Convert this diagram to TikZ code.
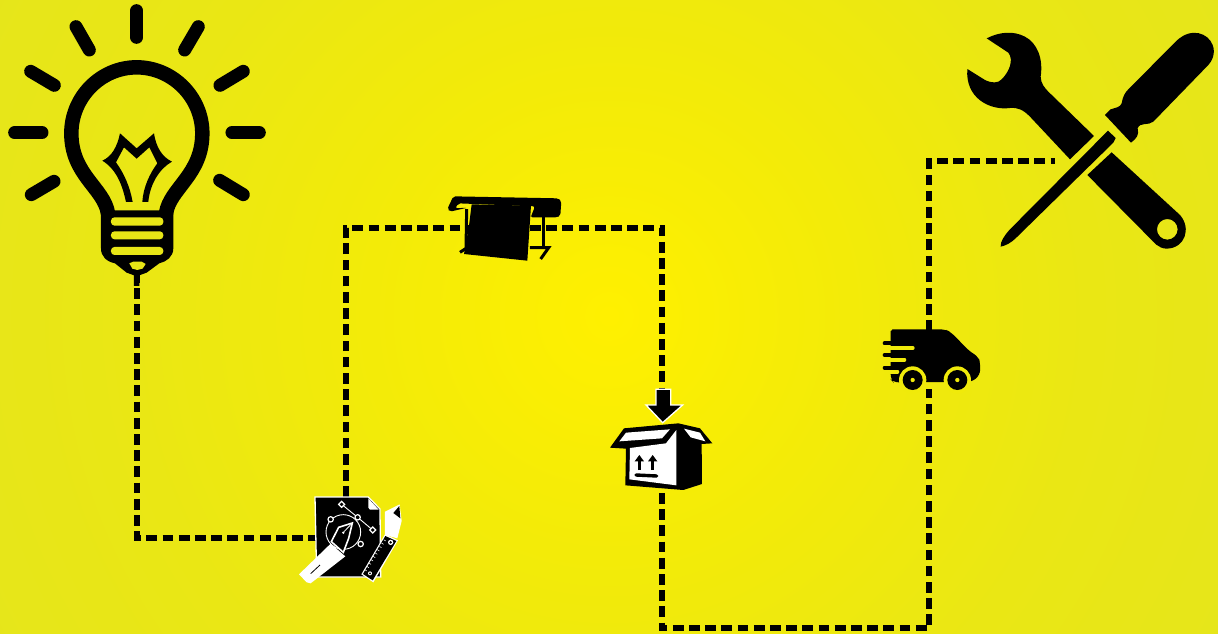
\documentclass[tikz,border=0pt]{standalone}
\definecolor{ylwbulb}{HTML}{E8E616}
\definecolor{ylwvan}{HTML}{F0EA0A}
\definecolor{bga}{HTML}{FFF000}
\definecolor{bgb}{HTML}{F3EB08}
\definecolor{bgc}{HTML}{EAE714}
\definecolor{bgd}{HTML}{E5E51C}
\pgfdeclareradialshading{bgglow}{\pgfpoint{0bp}{0bp}}{color(0bp)=(bga); color(8bp)=(bgb); color(16bp)=(bgc); color(25bp)=(bgd); color(50bp)=(bgd)}
\tikzset{
  iconbox/.style={inner sep=0pt,outer sep=0pt,minimum width=#1},
  flow/.style={line width=5.4pt,dash pattern=on 10.7pt off 5.5pt,black},
  ray/.style={line width=13pt,line cap=round,black},
  zoomed/.style={shift={#1},x=0.3333pt,y=-0.3333pt},
  whiteline/.style={draw=white,line width=1.3pt},
  gapline/.style={line width=4pt,line cap=round},
}
\begin{document}
\begin{tikzpicture}[x=1pt,y=-1pt]
\useasboundingbox (0,0) rectangle (1218,633);
\begin{scope}
\clip (0,0) rectangle (1218,633);
\shade[shading=bgglow] (609,316) circle (750);
\end{scope}

% anchor boxes of the icons
\node[iconbox=146pt,minimum height=212pt] (bulb) at (137,166) {};
\node[iconbox=60pt,minimum height=82pt] (design) at (346,538) {};
\node[iconbox=60pt,minimum height=60pt] (printer) at (500,228) {};
\node[iconbox=90pt,minimum height=102pt] (package) at (662,442) {};
\node[iconbox=90pt,minimum height=58pt] (van) at (929,360) {};
\node[iconbox=70pt,minimum height=40pt] (tools) at (1090,161) {};
\coordinate (bottom) at (795,628);

% connectors
\draw[flow] (bulb.south) |- (design.west);
\draw[flow] (design.north) |- (printer.west);
\draw[flow] (printer.east) -| (package.north);
\draw[flow] (package.south) |- (bottom) -| (van.south);
\draw[flow] (van.north) |- (tools.west);

% light bulb
\begin{scope}[zoomed={(0,0)}]
\draw[ray] (410,32) -- (410,112);
\draw[ray] (228,80) -- (268,150);
\draw[ray] (595,80) -- (554,150);
\draw[ray] (92,214) -- (163,256);
\draw[ray] (730,214) -- (660,256);
\draw[ray] (44,398) -- (126,398);
\draw[ray] (696,398) -- (778,398);
\draw[ray] (94,584) -- (162,544);
\draw[ray] (730,584) -- (659,541);
\draw[line width=14.5pt] (324,640) .. controls (312,564) and (214,525) .. (214,400)
  .. controls (214,292) and (302,202) .. (410,202)
  .. controls (518,202) and (607,292) .. (607,400)
  .. controls (607,525) and (510,564) .. (498,640);
\fill (303,631) -- (520,631) -- (520,745) .. controls (520,770) and (500,785) .. (478,790)
  -- (440,818) -- (418,826) -- (418,858) -- (402,858) -- (402,826) -- (380,818) -- (345,790)
  .. controls (320,785) and (303,770) .. (303,745) -- cycle;
\fill[ylwbulb,rounded corners=3.5pt] (333,652) rectangle (490,677);
\fill[ylwbulb,rounded corners=3.5pt] (333,694) rectangle (490,718);
\fill[ylwbulb,rounded corners=3.5pt] (333,741) rectangle (490,765);
\fill[ylwbulb] (388,790) -- (400,785) -- (425,785) -- (437,792) -- (428,806) -- (412,810) -- (397,806) -- cycle;
\fill (378,606) .. controls (368,560) and (352,510) .. (307,482)
  .. controls (335,470) and (352,440) .. (360,400) -- (410,445) -- (462,400)
  .. controls (468,440) and (485,470) .. (516,485)
  .. controls (480,505) and (450,550) .. (445,606) -- (427,606)
  .. controls (430,560) and (450,520) .. (472,490) -- (448,442) -- (410,476) -- (372,442) -- (348,487)
  .. controls (372,520) and (390,560) .. (398,606) -- cycle;
\end{scope}

% design icon
\begin{scope}[zoomed={(290,485)}]
\fill[black] (75,36) -- (235,36) -- (270,72) -- (272,276) -- (80,276) -- cycle;
\draw[whiteline] (75,36) -- (235,36) -- (270,72) -- (272,276) -- (80,276) -- cycle;
\fill[white] (235,40) -- (266,74) -- (240,74) -- (235,68) -- cycle;
\draw[white,line width=.9pt] (160,141) circle (52);
\draw[white,line width=.9pt] (155,58) -- (203,97) -- (248,135);
\foreach \p in {(122,103),(203,97),(212,177)} \filldraw[fill=black,draw=white,line width=1.2pt] \p circle (8);
\filldraw[fill=black,draw=white,line width=1.2pt] (155,49) -- (164,58) -- (155,67) -- (146,58) -- cycle;
\filldraw[fill=black,draw=white,line width=1.2pt] (248,126) -- (257,135) -- (248,144) -- (239,135) -- cycle;
% pen
\fill[white] (27,268) -- (122,176) -- (166,214) -- (62,295) -- (50,292) -- cycle;
\filldraw[fill=black,draw=white,line width=1.6pt] (187,114) -- (146,127) -- (124,170) -- (160,202) -- (176,160) -- cycle;
\draw[white,line width=.8pt] (187,114) -- (162,140);
\fill[white] (160,143) circle (4);
\draw[line width=.8pt] (62,266) -- (90,240);
% pencil
\fill[white] (285,80) -- (329,58) -- (335,108) -- (322,160) -- (285,150) -- cycle;
\fill (328,63) -- (310,84) -- (331,100) -- cycle;
% ruler
\fill[white] (285,148) -- (324,166) -- (250,292) -- (214,268) -- cycle;
\fill (286,153) -- (319,168) -- (248,286) -- (219,267) -- cycle;
\fill[white] (302,172) circle (8);
\fill (302,172) circle (4);
\fill[white] (240,265) circle (6);
\fill (240,265) circle (3);
\foreach \t in {0,1,...,9} \draw[white,line width=.55pt] ({281-\t*6.3},{164+\t*10}) -- ({287-\t*6.3},{168+\t*10});
\end{scope}

% plotter
\begin{scope}[zoomed={(440,185)}]
\fill[rounded corners=2pt] (40,34) -- (355,40) -- (364,48) -- (361,92) -- (352,97) -- (272,97) -- (285,64) -- (55,55) -- (46,70) -- (82,68) -- (30,80) -- (22,72) -- cycle;
\fill (95,58) -- (273,62) -- (262,227) -- (72,207) -- (86,130) -- cycle;
\draw[line width=3pt] (80,72) -- (78,190) -- (60,202);
\draw[line width=3.4pt] (310,95) -- (310,186);
\draw[line width=3pt] (270,188) -- (326,188) -- (302,222);
\end{scope}

% package
\begin{scope}[zoomed={(600,380)}]
\filldraw[fill=black,whiteline] (168,28) -- (212,28) -- (212,75) -- (248,75) -- (188,128) -- (138,75) -- (168,75) -- cycle;
\fill (30,203) -- (72,145) -- (235,130) -- (300,145) -- (337,190) -- (305,192) -- (306,312) -- (250,330) -- (76,316) -- (78,206) -- cycle;
\fill[white] (78,158) -- (210,148) -- (186,175) -- (58,184) -- cycle;
\fill[white] (252,146) -- (300,158) -- (316,184) -- (272,172) -- cycle;
\fill[white] (90,204) -- (198,190) -- (229,150) -- (229,316) -- (88,298) -- cycle;
\draw[line width=3.4pt,line cap=round] (108,285) -- (170,288);
\draw[line width=2.4pt] (118,270) -- (118,235);
\draw[line width=2.4pt] (158,270) -- (158,235);
\fill (118,225) -- (132,244) -- (104,244) -- cycle;
\fill (158,225) -- (172,244) -- (144,244) -- cycle;
\end{scope}

% van
\begin{scope}[zoomed={(870,320)}]
\fill[rounded corners=5pt] (62,48) .. controls (62,35) and (70,28) .. (82,28) -- (225,28) -- (242,36) -- (300,95) -- (325,110) -- (331,130) -- (330,165) -- (305,186) -- (70,187) -- (62,178) -- cycle;
\draw[gapline,black] (44,70) -- (66,70);
\draw[gapline,black] (44,105) -- (66,105);
\draw[gapline,black] (44,143) -- (66,143);
\draw[gapline,ylwvan] (62,84) -- (128,84);
\draw[gapline,ylwvan] (62,119) -- (103,119);
\draw[gapline,ylwvan] (62,155) -- (82,155);
\foreach \c in {(128,180),(262,180)} {
  \fill[ylwvan] \c circle (41);
  \fill \c circle (30);
  \fill[ylwvan] \c circle (6.5);
}
\end{scope}

% crossed tools
\begin{scope}[zoomed={(950,20)}]
\fill (110,55) .. controls (150,35) and (190,32) .. (225,50)
  .. controls (262,70) and (280,115) .. (272,170)
  .. controls (272,190) and (285,205) .. (295,215)
  -- (432,348) -- (360,418) -- (240,290)
  .. controls (220,270) and (205,262) .. (180,264)
  .. controls (120,272) and (45,235) .. (52,147)
  -- (105,180) .. controls (125,190) and (145,190) .. (155,178)
  .. controls (178,155) and (192,120) .. (175,98) -- cycle;
\fill[even odd rule] (485,397) -- (690,585)
  .. controls (725,625) and (705,685) .. (650,686)
  .. controls (625,686) and (610,665) .. (600,655) -- (412,465) -- cycle
  (652,628) circle (31);
\fill (465,285) -- (482,268) .. controls (500,262) and (510,262) .. (515,250)
  .. controls (518,230) and (525,218) .. (535,208) -- (680,62)
  .. controls (725,20) and (775,40) .. (788,75)
  .. controls (798,100) and (785,125) .. (775,135) -- (610,305)
  .. controls (595,318) and (570,305) .. (563,325)
  .. controls (568,345) and (560,355) .. (543,368) -- cycle;
\fill (474,332) -- (497,354) -- (490,368) -- (200,652)
  .. controls (185,668) and (165,678) .. (152,680)
  .. controls (150,665) and (165,645) .. (178,630) -- cycle;
\end{scope}
\end{tikzpicture}
\end{document}
